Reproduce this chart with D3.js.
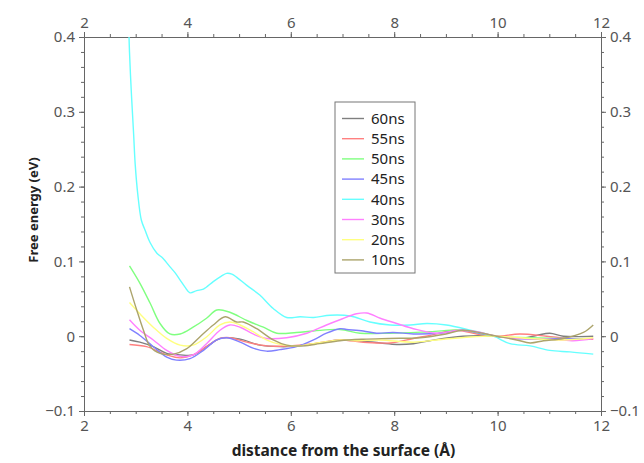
<!DOCTYPE html>
<html>
<head>
<meta charset="utf-8">
<script src="https://cdn.jsdelivr.net/npm/d3@7"></script>
<style>
  body { margin: 0; background: #fff; }
  svg text { font-family: "Noto Sans", "DejaVu Sans", sans-serif; }
</style>
</head>
<body>
<div id="chart"></div>
<script>
// free energy profiles, [distance (Å), energy (eV)]
const s60 = [[2.88,-0.005],[3.08,-0.008],[3.34,-0.014],[3.60,-0.023],[3.86,-0.025],[4.11,-0.025],[4.37,-0.014],[4.63,-0.003],[4.82,-0.002],[5.08,-0.005],[5.40,-0.012],[5.79,-0.014],[6.18,-0.013],[6.56,-0.009],[6.95,-0.005],[7.30,-0.006],[7.73,-0.009],[8.05,-0.011],[8.37,-0.010],[8.69,-0.006],[9.33,0.000],[9.98,0.000],[10.43,-0.003],[10.75,0.001],[11.01,0.004],[11.27,0.000],[11.85,0.000]];
const s55 = [[2.88,-0.011],[3.21,-0.014],[3.60,-0.025],[3.86,-0.029],[4.11,-0.025],[4.37,-0.014],[4.63,-0.003],[4.82,-0.002],[5.15,-0.008],[5.53,-0.013],[5.92,-0.013],[6.44,-0.010],[6.95,-0.005],[7.40,-0.008],[7.92,-0.009],[8.37,-0.003],[8.69,0.001],[9.20,0.008],[9.60,0.003],[9.98,0.000],[10.43,0.003],[10.95,0.000],[11.40,-0.003],[11.85,-0.004]];
const s50 = [[2.88,0.094],[3.08,0.071],[3.28,0.044],[3.47,0.017],[3.66,0.003],[3.86,0.003],[4.11,0.012],[4.37,0.024],[4.57,0.035],[4.82,0.032],[5.15,0.021],[5.47,0.012],[5.73,0.004],[6.11,0.005],[6.44,0.007],[6.95,0.009],[7.34,0.004],[7.92,0.004],[8.69,0.006],[9.33,0.008],[9.92,0.000],[10.60,-0.002],[11.27,-0.003],[11.80,-0.004]];
const s45 = [[2.88,0.010],[3.08,0.001],[3.34,-0.014],[3.60,-0.028],[3.79,-0.032],[4.05,-0.030],[4.31,-0.019],[4.57,-0.005],[4.76,-0.002],[5.02,-0.008],[5.27,-0.016],[5.53,-0.020],[5.79,-0.018],[6.11,-0.014],[6.44,-0.005],[6.69,0.004],[6.95,0.010],[7.08,0.009],[7.40,0.007],[7.66,0.004],[7.98,0.005],[8.37,0.003],[8.89,0.004],[9.33,0.008],[9.66,0.004],[9.98,0.000],[10.37,-0.003],[10.76,-0.004],[11.27,-0.003],[11.79,-0.004]];
const s40 = [[2.86,0.43],[2.88,0.38],[2.92,0.32],[2.96,0.27],[2.99,0.23],[3.04,0.19],[3.11,0.155],[3.18,0.142],[3.28,0.125],[3.41,0.111],[3.53,0.104],[3.66,0.093],[3.76,0.085],[3.86,0.075],[3.95,0.066],[4.05,0.058],[4.18,0.061],[4.31,0.063],[4.50,0.073],[4.65,0.080],[4.76,0.084],[4.86,0.083],[4.95,0.079],[5.15,0.068],[5.40,0.055],[5.66,0.037],[5.92,0.025],[6.18,0.026],[6.44,0.025],[6.76,0.028],[7.15,0.027],[7.53,0.019],[7.92,0.015],[8.31,0.015],[8.63,0.017],[9.01,0.015],[9.47,0.008],[9.92,0.000],[10.24,-0.010],[10.63,-0.013],[11.01,-0.019],[11.40,-0.021],[11.85,-0.024]];
const s30 = [[2.88,0.022],[3.08,0.008],[3.34,-0.005],[3.60,-0.019],[3.86,-0.027],[4.11,-0.025],[4.37,-0.010],[4.63,0.008],[4.82,0.015],[5.02,0.012],[5.27,0.003],[5.53,-0.003],[5.92,-0.002],[6.31,0.004],[6.69,0.015],[6.95,0.022],[7.27,0.030],[7.47,0.031],[7.73,0.024],[8.05,0.017],[8.37,0.010],[8.82,0.004],[9.27,0.008],[9.60,0.006],[9.98,0.000],[10.50,-0.003],[11.00,-0.004],[11.46,-0.006],[11.85,-0.003]];
const s20 = [[2.88,0.045],[3.08,0.030],[3.34,0.012],[3.60,-0.003],[3.86,-0.012],[4.11,-0.012],[4.37,-0.001],[4.63,0.015],[4.82,0.019],[5.02,0.015],[5.27,0.006],[5.53,-0.005],[5.79,-0.011],[6.11,-0.013],[6.44,-0.010],[6.95,-0.005],[7.27,-0.006],[7.73,-0.005],[8.37,-0.008],[8.95,-0.004],[9.47,-0.001],[9.98,0.000],[10.63,-0.003],[11.27,-0.005],[11.85,-0.002]];
const s10 = [[2.88,0.066],[3.02,0.035],[3.15,0.008],[3.28,-0.014],[3.47,-0.023],[3.73,-0.024],[3.98,-0.017],[4.24,-0.001],[4.50,0.015],[4.73,0.026],[4.95,0.019],[5.08,0.019],[5.34,0.010],[5.66,-0.005],[5.92,-0.012],[6.24,-0.013],[6.56,-0.010],[6.95,-0.006],[7.40,-0.004],[7.90,-0.003],[8.50,-0.002],[9.00,0.003],[9.33,0.008],[9.98,0.000],[10.37,-0.005],[10.63,-0.009],[10.89,-0.006],[11.27,-0.003],[11.66,0.005],[11.85,0.015]];

const labels = ['60ns', '55ns', '50ns', '45ns', '40ns', '30ns', '20ns', '10ns'];
const profiles = [s60, s55, s50, s45, s40, s30, s20, s10];
const colors = ['#7f7f7f', '#ff8080', '#80ff80', '#8080ff', '#66ffff', '#ff80ff', '#ffff80', '#aca46c'];

const xTicks = [2, 4, 6, 8, 10, 12];
const yTicks = [-0.1, 0, 0.1, 0.2, 0.3, 0.4];

const width = 644, height = 463;
const margin = { top: 37, right: 43, bottom: 52, left: 84 };

const svg = d3.select('#chart').append('svg')
    .attr('width', width)
    .attr('height', height);

const x = d3.scaleLinear().domain([2, 12]).range([margin.left, width - margin.right]);
const y = d3.scaleLinear().domain([-0.1, 0.4]).range([height - margin.bottom, margin.top]);

svg.append('clipPath').attr('id', 'plot')
    .append('rect')
    .attr('x', x(2)).attr('y', y(0.4))
    .attr('width', x(12) - x(2)).attr('height', y(-0.1) - y(0.4));

// minor ticks first, then the labelled axes on top
const xMinor = d3.range(2, 12.01, 0.5);
const yMinor = d3.range(-0.1, 0.401, 0.02);
const tickColor = '#666';

function minor(axis, ticks, transform) {
    svg.append('g').attr('transform', transform)
        .call(axis.tickValues(ticks).tickSize(3).tickFormat(''))
        .call(g => g.select('.domain').remove())
        .call(g => g.selectAll('line').attr('stroke', tickColor));
}
minor(d3.axisBottom(x), xMinor, `translate(0,${y(-0.1)})`);
minor(d3.axisTop(x), xMinor, `translate(0,${y(0.4)})`);
minor(d3.axisLeft(y), yMinor, `translate(${x(2)},0)`);
minor(d3.axisRight(y), yMinor, `translate(${x(12)},0)`);

const xFmt = d => String(d);
const yFmt = d => d === 0 ? '0' : d3.format('.1f')(d).replace('-', '\u2212');

function major(axis, ticks, fmt, transform) {
    svg.append('g').attr('transform', transform)
        .call(axis.tickValues(ticks).tickSize(5).tickPadding(4).tickFormat(fmt))
        .call(g => g.select('.domain').attr('stroke', tickColor))
        .call(g => g.selectAll('line').attr('stroke', tickColor))
        .call(g => g.selectAll('text')
            .attr('fill', '#555')
            .style('font-size', '15px'));
}
major(d3.axisBottom(x), xTicks, xFmt, `translate(0,${y(-0.1)})`);
major(d3.axisTop(x), xTicks, xFmt, `translate(0,${y(0.4)})`);
major(d3.axisLeft(y), yTicks, yFmt, `translate(${x(2)},0)`);
major(d3.axisRight(y), yTicks, yFmt, `translate(${x(12)},0)`);

// curves
const line = d3.line()
    .x(d => x(d[0]))
    .y(d => y(d[1]))
    .curve(d3.curveCatmullRom.alpha(0.5));

svg.append('g').attr('clip-path', 'url(#plot)')
    .selectAll('path')
    .data(profiles)
    .enter()
    .append('path')
    .attr('d', line)
    .attr('fill', 'none')
    .attr('stroke', (d, i) => colors[i])
    .attr('stroke-width', 1.4);

// axis titles
svg.append('text')
    .attr('x', (x(2) + x(12)) / 2 + 1)
    .attr('y', 456)
    .attr('text-anchor', 'middle')
    .attr('fill', '#222')
    .style('font-size', '15.5px')
    .style('font-weight', 'bold')
    .text('distance from the surface (\u00c5)');

svg.append('text')
    .attr('transform', `translate(38,${(y(-0.1) + y(0.4)) / 2 - 14}) rotate(-90)`)
    .attr('text-anchor', 'middle')
    .attr('fill', '#222')
    .style('font-size', '13px')
    .style('font-weight', 'bold')
    .text('Free energy (eV)');

// legend
const legend = svg.append('g').attr('transform', 'translate(335,102)');
legend.append('rect')
    .attr('width', 80).attr('height', 171)
    .attr('fill', '#fff')
    .attr('stroke', '#777')
    .attr('stroke-width', 1);

const rows = legend.selectAll('g.row')
    .data(labels)
    .enter()
    .append('g')
    .attr('class', 'row')
    .attr('transform', (d, i) => `translate(0,${16.5 + i * 20.2})`);

rows.append('line')
    .attr('x1', 7).attr('x2', 29)
    .attr('stroke', (d, i) => colors[i])
    .attr('stroke-width', 1.4);

rows.append('text')
    .attr('x', 36)
    .attr('dy', '0.35em')
    .attr('fill', '#222')
    .style('font-size', '15px')
    .text(d => d);
</script>
</body>
</html>
